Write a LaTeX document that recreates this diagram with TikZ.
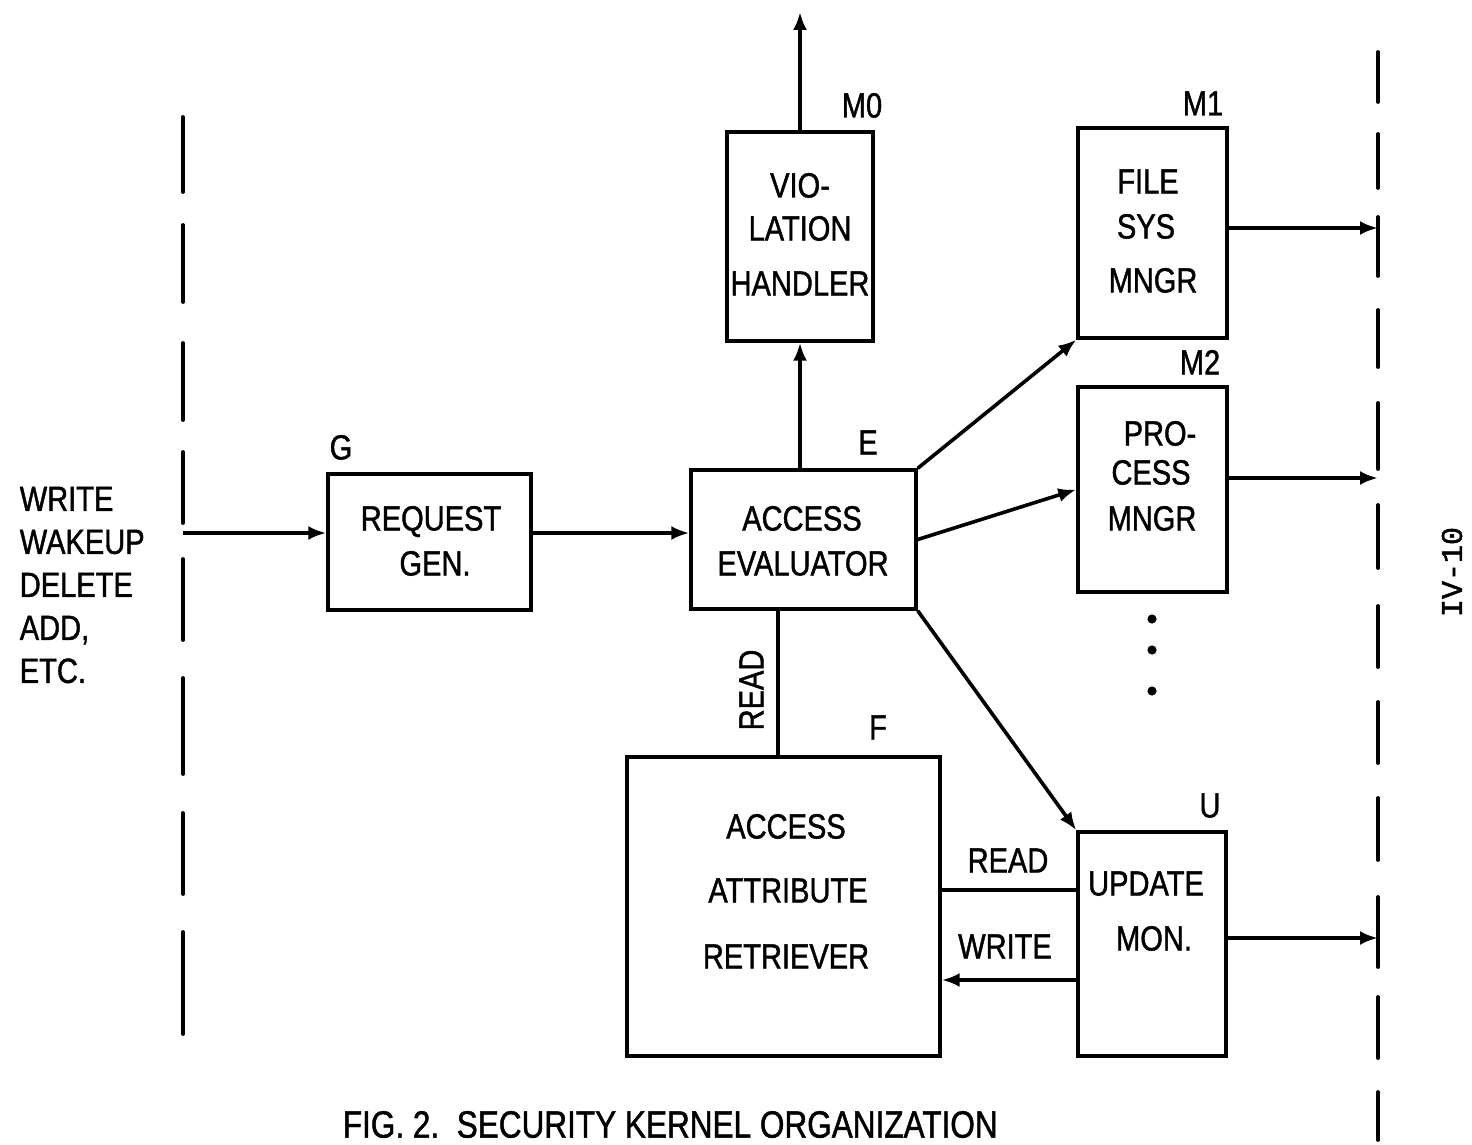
\documentclass[tikz,border=0pt]{standalone}
\usepackage{fontspec}
\setmainfont[FakeStretch=0.83, FakeBold=1.2]{Liberation Sans}
\newfontfamily\pagefont[FakeBold=1.5]{Liberation Mono}
\usetikzlibrary{arrows.meta}
\begin{document}
\begin{tikzpicture}[x=0.5pt,y=-0.5pt,
  line width=1.8pt,
  box/.style={draw, line width=1.7pt, rectangle, inner sep=0pt},
  txt/.style={font=\fontsize{17.5}{21}\selectfont, inner sep=0pt, text height=12.5pt, text depth=0pt},
  arr/.style={-{Latex[length=9pt,width=7pt]}},
  dashseg/.style={line width=1.9pt, line cap=round}
]
\useasboundingbox (0,0) rectangle (1472,1145);

% boxes
\node[box, minimum width=101.5pt, minimum height=68pt]   (G)  at (429.5,542) {};
\node[box, minimum width=112.5pt, minimum height=69.5pt] (E)  at (803.5,539.5) {};
\node[box, minimum width=73pt,    minimum height=104.5pt] (M0) at (800,236.5) {};
\node[box, minimum width=74.5pt,  minimum height=105pt]  (M1) at (1152.5,233) {};
\node[box, minimum width=74.5pt,  minimum height=102.5pt] (M2) at (1152.5,489.5) {};
\node[box, minimum width=74pt,    minimum height=112pt]  (U)  at (1152,944) {};
\node[box, minimum width=156.5pt, minimum height=149.5pt] (F) at (783.5,906.5) {};

% box texts
\node[txt] (g1) at (431,518) {REQUEST};
\node[txt] (g2) at (435,563) {GEN.};
\node[txt] (e1) at (802,518) {ACCESS};
\node[txt] (e2) at (803,563) {EVALUATOR};
\node[txt] (m01) at (800,185) {VIO-};
\node[txt] (m02) at (800,228) {LATION};
\node[txt] (m03) at (800,283) {HANDLER};
\node[txt] (m11) at (1148,181) {FILE};
\node[txt] (m12) at (1146,226) {SYS};
\node[txt] (m13) at (1153,280) {MNGR};
\node[txt] (m21) at (1160,433) {PRO-};
\node[txt] (m22) at (1151,472) {CESS};
\node[txt] (m23) at (1152,518) {MNGR};
\node[txt] (u1) at (1146,883) {UPDATE};
\node[txt] (u2) at (1154,938) {MON.};
\node[txt] (f1) at (786,826) {ACCESS};
\node[txt] (f2) at (788,890) {ATTRIBUTE};
\node[txt] (f3) at (786,956) {RETRIEVER};

% box labels
\node[txt] (lG)  at (341,447) {G};
\node[txt] (lE)  at (868,442) {E};
\node[txt] (lM0) at (862,105) {M0};
\node[txt] (lM1) at (1203,103) {M1};
\node[txt] (lM2) at (1200,362) {M2};
\node[txt] (lU)  at (1210,805) {U};
\node[txt] (lF)  at (878,727) {F};

% inputs text
\node[font=\fontsize{17.5}{21.5}\selectfont, inner sep=0pt, align=left, anchor=north west] (inputs) at (18,485)
  {WRITE\\WAKEUP\\DELETE\\ADD,\\ETC.};

% helper coordinates
\coordinate (inL) at (183,533);
\coordinate (top) at (800,12);
\coordinate (xr) at (778,0);
\coordinate (yr) at (0,890);
\coordinate (yw) at (0,980);
\coordinate (R1) at (1378,228);
\coordinate (R2) at (1378,478);
\coordinate (R3) at (1378,938);

% connectors
\draw[arr] (inL) -- (inL -| G.west);
\draw[arr] (G.east |- inL) -- (E.west |- inL);
\draw[arr] (E.north -| M0.south) -- (M0.south);
\draw[arr] (M0.north) -- (top);
\draw[arr] (E.north east) -- (M1.south west);
\draw[arr] (E.east) -- (M2.west);
\draw[arr] (E.south east) -- (U.north west);
\draw (E.south -| xr) -- (F.north -| xr);
\node[txt, rotate=90] (rd1) at (751,690) {READ};
\draw (F.east |- yr) -- (U.west |- yr);
\draw[arr] (U.west |- yw) -- (F.east |- yw);
\draw[arr] (M1.east |- R1) -- (R1);
\draw[arr] (M2.east |- R2) -- (R2);
\draw[arr] (U.east |- R3) -- (R3);

\node[txt] (rd2) at (1008,860) {READ};
\node[txt] (wr)  at (1005,946) {WRITE};

% dots
\fill (1152,619) circle (2.3pt);
\fill (1152,650) circle (2.3pt);
\fill (1152,691) circle (2.3pt);

% dashed boundaries
\foreach \a/\b in {117/192,225/302,343/420,452/523,559/640,678/774,813/894,932/1034}
  \draw[dashseg] (183,\a) -- (183,\b);
\foreach \a/\b in {52/102,134/188,217/276,310/367,403/469,505/568,606/667,702/763,798/860,897/967,997/1058,1092/1140}
  \draw[dashseg] (1378,\a) -- (1378,\b);

% page number
\node[rotate=90, font=\pagefont\fontsize{15}{15}\selectfont, inner sep=0pt] (pg) at (1452,572) {IV-10};

% title
\node[font=\fontsize{19}{23}\selectfont, inner sep=0pt, anchor=west, text height=13.6pt, text depth=0pt] (title) at (341,1124)
  {FIG. 2.\ \ SECURITY KERNEL ORGANIZATION};
\end{tikzpicture}
\end{document}
